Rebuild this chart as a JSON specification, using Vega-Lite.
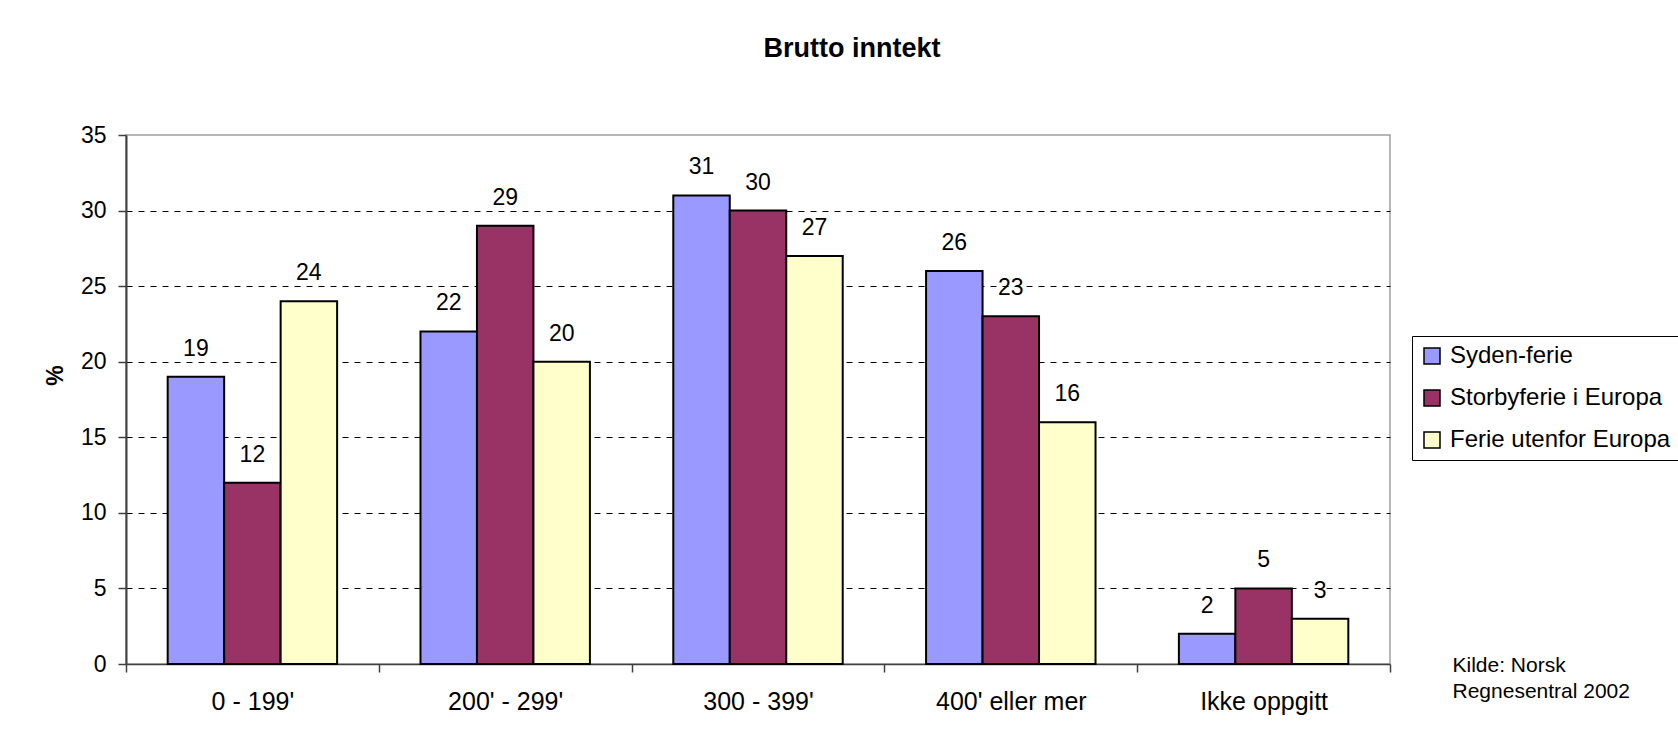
{
  "$schema": "https://vega.github.io/schema/vega-lite/v6.json",
  "width": 1264,
  "height": 529,
  "autosize": "none",
  "padding": {"left": 126, "top": 135, "right": 288, "bottom": 80},
  "background": "white",
  "config": {
    "font": "Liberation Sans",
    "view": {"stroke": "#a0a0a0", "strokeWidth": 1.5}
  },
  "title": {
    "text": "Brutto inntekt",
    "anchor": "middle",
    "dx": 94,
    "offset": 61,
    "fontSize": 27,
    "fontWeight": "bold",
    "color": "black"
  },
  "data": {
    "values": [
      {"kategori": "0 - 199'", "type": "Syden-ferie", "pct": 19},
      {"kategori": "0 - 199'", "type": "Storbyferie i Europa", "pct": 12},
      {"kategori": "0 - 199'", "type": "Ferie utenfor Europa", "pct": 24},
      {"kategori": "200' - 299'", "type": "Syden-ferie", "pct": 22},
      {"kategori": "200' - 299'", "type": "Storbyferie i Europa", "pct": 29},
      {"kategori": "200' - 299'", "type": "Ferie utenfor Europa", "pct": 20},
      {"kategori": "300 - 399'", "type": "Syden-ferie", "pct": 31},
      {"kategori": "300 - 399'", "type": "Storbyferie i Europa", "pct": 30},
      {"kategori": "300 - 399'", "type": "Ferie utenfor Europa", "pct": 27},
      {"kategori": "400' eller mer", "type": "Syden-ferie", "pct": 26},
      {"kategori": "400' eller mer", "type": "Storbyferie i Europa", "pct": 23},
      {"kategori": "400' eller mer", "type": "Ferie utenfor Europa", "pct": 16},
      {"kategori": "Ikke oppgitt", "type": "Syden-ferie", "pct": 2},
      {"kategori": "Ikke oppgitt", "type": "Storbyferie i Europa", "pct": 5},
      {"kategori": "Ikke oppgitt", "type": "Ferie utenfor Europa", "pct": 3}
    ]
  },
  "encoding": {
    "x": {
      "field": "kategori",
      "type": "nominal",
      "sort": ["0 - 199'", "200' - 299'", "300 - 399'", "400' eller mer", "Ikke oppgitt"],
      "scale": {"paddingInner": 0, "paddingOuter": 0},
      "axis": {
        "labelAngle": 0,
        "labelFontSize": 25,
        "labelColor": "black",
        "labelPadding": 17,
        "tickBand": "extent",
        "tickSize": 8,
        "tickColor": "#404040",
        "tickWidth": 1.5,
        "domainColor": "#404040",
        "domainWidth": 1.5,
        "grid": false,
        "title": ["Kilde: Norsk", "Regnesentral 2002"],
        "titleFontSize": 21,
        "titleFontWeight": "normal",
        "titleColor": "black",
        "titleAlign": "left",
        "titleBaseline": "alphabetic",
        "titleAnchor": "start",
        "titleLineHeight": 26.5,
        "titleX": 1326,
        "titleY": 7
      }
    },
    "xOffset": {
      "field": "type",
      "sort": ["Syden-ferie", "Storbyferie i Europa", "Ferie utenfor Europa"],
      "scale": {"paddingInner": 0, "paddingOuter": 0.738}
    },
    "y": {
      "field": "pct",
      "type": "quantitative",
      "scale": {"domain": [0, 35], "nice": false},
      "axis": {
        "values": [0, 5, 10, 15, 20, 25, 30, 35],
        "labelFontSize": 23,
        "labelColor": "black",
        "labelPadding": 12,
        "tickSize": 8,
        "tickColor": "#404040",
        "tickWidth": 1.5,
        "domainColor": "#404040",
        "domainWidth": 2,
        "grid": true,
        "gridColor": "black",
        "gridWidth": 1,
        "gridDash": [6, 6],
        "gridOpacity": {"condition": {"test": "datum.value === 0 || datum.value === 35", "value": 0}, "value": 1},
        "title": "%",
        "titleFontSize": 23,
        "titleFontWeight": "bold",
        "titleColor": "black",
        "titleX": -59,
        "titleY": 240
      }
    }
  },
  "layer": [
    {
      "mark": {"type": "bar", "stroke": "black", "strokeWidth": 2},
      "encoding": {
        "color": {
          "field": "type",
          "type": "nominal",
          "sort": ["Syden-ferie", "Storbyferie i Europa", "Ferie utenfor Europa"],
          "scale": {
            "domain": ["Syden-ferie", "Storbyferie i Europa", "Ferie utenfor Europa"],
            "range": ["#9999FF", "#993366", "#FFFFCC"]
          },
          "legend": {
            "title": null,
            "orient": "none",
            "legendX": 1286,
            "legendY": 201,
            "strokeColor": "black",
            "fillColor": "white",
            "padding": 8,
            "symbolType": "square",
            "symbolSize": 256,
            "symbolStrokeColor": "black",
            "symbolStrokeWidth": 1.5,
            "symbolOpacity": 1,
            "labelFontSize": 24,
            "labelColor": "black",
            "labelOffset": 6,
            "rowPadding": 18,
            "labelLimit": 400
          }
        }
      }
    },
    {
      "mark": {"type": "text", "fontSize": 23, "baseline": "alphabetic", "dy": -21, "color": "black"},
      "encoding": {
        "text": {"field": "pct", "type": "quantitative"}
      }
    }
  ]
}
